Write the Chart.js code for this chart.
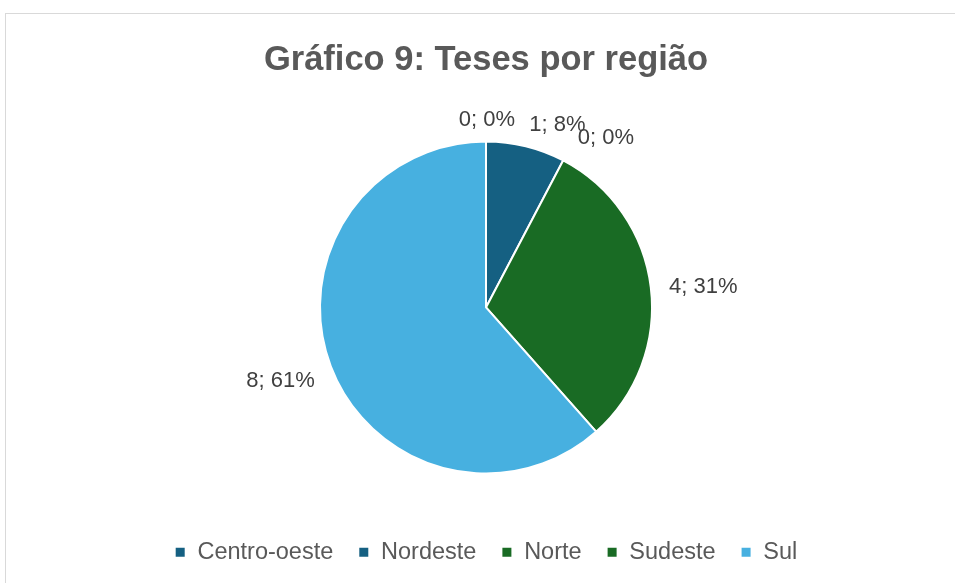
<!DOCTYPE html>
<html>
<head>
<meta charset="utf-8">
<script src="https://cdn.jsdelivr.net/npm/chart.js@4"></script>
<style>
  body { margin: 0; background: #fff; }
  #box { position: absolute; left: 5px; top: 13px; width: 960px; height: 575px; border: 1px solid #d9d9d9; }
</style>
</head>
<body>
<div id="box"><canvas id="pieChart"></canvas></div>
<script>
// data
const regioes = ['Centro-oeste', 'Nordeste', 'Norte', 'Sudeste', 'Sul'];
const teses = [0, 1, 0, 4, 8];
const percentuais = [0, 8, 0, 31, 61]; // as printed on the chart
const cores = ['#156082', '#156082', '#196B24', '#196B24', '#47B0E0'];
// small nudges so the stacked zero labels don't collide (like excel does)
const labelNudge = [[1, 14], [24, 13], [25, 8], [-6, 3], [3, 4]];

const FONT = '"Liberation Sans", Arial, sans-serif';

// draws "value; pct%" outside each slice
const outsideLabels = {
  id: 'outsideLabels',
  afterDraw(chart) {
    const ctx = chart.ctx;
    const meta = chart.getDatasetMeta(0);
    ctx.save();
    ctx.font = '22px ' + FONT;
    ctx.fillStyle = '#404040';
    ctx.textAlign = 'center';
    ctx.textBaseline = 'middle';
    meta.data.forEach((arc, i) => {
      const p = arc.getProps(['x', 'y', 'startAngle', 'endAngle', 'outerRadius'], true);
      const mid = (p.startAngle + p.endAngle) / 2;
      const txt = teses[i] + '; ' + percentuais[i] + '%';
      const w = ctx.measureText(txt).width;
      const h = 22;
      const r = p.outerRadius + 25;
      const cx = p.x + Math.cos(mid) * (r + w / 2 * Math.abs(Math.cos(mid))) + labelNudge[i][0];
      const cy = p.y + Math.sin(mid) * (r + h / 2 * Math.abs(Math.sin(mid))) + labelNudge[i][1];
      ctx.fillText(txt, cx, cy);
    });
    ctx.restore();
  }
};

const pieCtx = document.getElementById('pieChart').getContext('2d');
new Chart(pieCtx, {
  type: 'pie',
  data: {
    labels: regioes,
    datasets: [
      {
        data: teses,
        backgroundColor: cores,
        borderColor: '#ffffff',
        borderWidth: 2,
        radius: 166,
      }
    ]
  },
  options: {
    responsive: true,
    maintainAspectRatio: false,
    animation: false,
    layout: { padding: { top: 26, bottom: 15 } },
    plugins: {
      title: {
        display: true,
        text: 'Gráfico 9: Teses por região',
        color: '#595959',
        font: { size: 34.5, weight: 'bold', family: FONT },
        padding: { top: 0, bottom: 18 }
      },
      legend: {
        position: 'bottom',
        labels: {
          usePointStyle: true,
          pointStyle: 'rect',
          boxWidth: 11,
          boxHeight: 11,
          padding: 25,
          color: '#595959',
          font: { size: 23.5, family: FONT }
        }
      },
      tooltip: { enabled: false }
    }
  },
  plugins: [outsideLabels]
});
</script>
</body>
</html>
